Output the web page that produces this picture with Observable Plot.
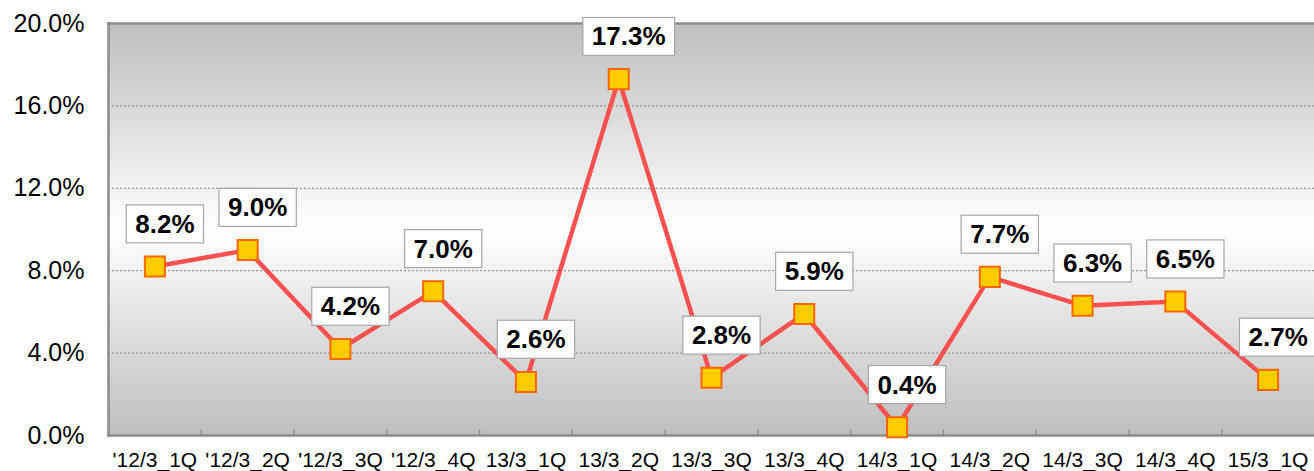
<!DOCTYPE html>
<html><head><meta charset="utf-8">
<script src="https://cdn.jsdelivr.net/npm/d3@7"></script>
<script src="https://cdn.jsdelivr.net/npm/@observablehq/plot@0.6"></script>
<style>body{margin:0;background:#fff;} #chart svg{display:block;}</style>
</head><body><div id="chart"></div>
<script>
const categories = ["'12/3_1Q","'12/3_2Q","'12/3_3Q","'12/3_4Q","13/3_1Q","13/3_2Q","13/3_3Q","13/3_4Q","14/3_1Q","14/3_2Q","14/3_3Q","14/3_4Q","15/3_1Q"];
const values = [8.2, 9.0, 4.2, 7.0, 2.6, 17.3, 2.8, 5.9, 0.4, 7.7, 6.3, 6.5, 2.7];
const yTicks = [0, 4, 8, 12, 16, 20];
const gridTicks = [4, 8, 12, 16];

const data = categories.map((c, i) => ({cat: c, v: values[i]}));

const W = 1314, H = 471, ML = 108, MR = 0, MT = 23, MB = 36;
const step = (W - ML - MR) / categories.length;

const background = (index, scales, vals, dims) => {
  const g = d3.create("svg:g");
  const lg = g.append("defs").append("linearGradient").attr("id", "bgGrad")
    .attr("x1", 0).attr("y1", 0).attr("x2", 0).attr("y2", 1);
  lg.append("stop").attr("offset", "0%").attr("stop-color", "#bebebe");
  lg.append("stop").attr("offset", "50%").attr("stop-color", "#ffffff");
  lg.append("stop").attr("offset", "100%").attr("stop-color", "#bebebe");
  g.append("rect").attr("x", dims.marginLeft).attr("y", dims.marginTop)
    .attr("width", dims.width - dims.marginLeft - dims.marginRight)
    .attr("height", dims.height - dims.marginTop - dims.marginBottom)
    .attr("fill", "url(#bgGrad)");
  return g.node();
};

const chart = Plot.plot({
  width: W, height: H,
  marginLeft: ML, marginRight: MR, marginTop: MT, marginBottom: MB,
  style: {fontFamily: "'Liberation Sans', Arial, sans-serif", background: "#fff", color: "#000", overflow: "visible"},
  x: {type: "point", domain: categories, padding: 0.5, round: false, label: null},
  y: {domain: [0, 20], label: null},
  marks: [
    background,
    Plot.gridY(gridTicks, {stroke: "#808080", strokeOpacity: 1, strokeDasharray: "2,2", strokeWidth: 1}),
    Plot.ruleX(categories.slice(1), {x: d => d, y1: 0, y2: 0.27, dx: -step / 2, stroke: "#909090", strokeWidth: 1.5}),
    Plot.frame({anchor: "top", stroke: "#8c8c8c", strokeWidth: 2.5}),
    Plot.frame({anchor: "left", stroke: "#8c8c8c", strokeWidth: 2.5}),
    Plot.frame({anchor: "bottom", stroke: "#8c8c8c", strokeWidth: 2.5}),
    Plot.axisY({ticks: yTicks, tickFormat: d => d.toFixed(1) + "%", tickSize: 0, tickPadding: 24, fontSize: 25, label: null}),
    Plot.axisX({tickSize: 0, tickPadding: 17, fontSize: 21, label: null}),
    Plot.line(data, {x: "cat", y: "v", stroke: "#ff5050", strokeWidth: 4.5}),
    Plot.dot(data, {x: "cat", y: "v", symbol: "square", r: 11.3, fill: "#ffcc00", stroke: "#ff6600", strokeWidth: 2}),
    Plot.text(data, {x: "cat", y: "v", text: d => d.v.toFixed(1) + "%", dx: 10, dy: -42,
      fontSize: 26, fontWeight: "bold", fill: "#000", className: "lbl"})
  ]
});
document.getElementById("chart").appendChild(chart);

// white boxes behind the value labels
const svgRect = chart.getBoundingClientRect();
const lblGroup = chart.querySelector("g.lbl");
if (lblGroup) {
  const ns = "http://www.w3.org/2000/svg";
  const boxes = document.createElementNS(ns, "g");
  lblGroup.querySelectorAll("text").forEach(t => {
    const r = t.getBoundingClientRect();
    const rect = document.createElementNS(ns, "rect");
    const padX = 9, padY = 4;
    rect.setAttribute("x", r.left - svgRect.left - padX);
    rect.setAttribute("y", r.top - svgRect.top - padY);
    rect.setAttribute("width", r.width + 2 * padX);
    rect.setAttribute("height", r.height + 2 * padY);
    rect.setAttribute("fill", "#fff");
    rect.setAttribute("stroke", "#a6a6a6");
    rect.setAttribute("stroke-width", 1.2);
    boxes.appendChild(rect);
  });
  lblGroup.parentNode.insertBefore(boxes, lblGroup);
}
</script>
</body></html>
